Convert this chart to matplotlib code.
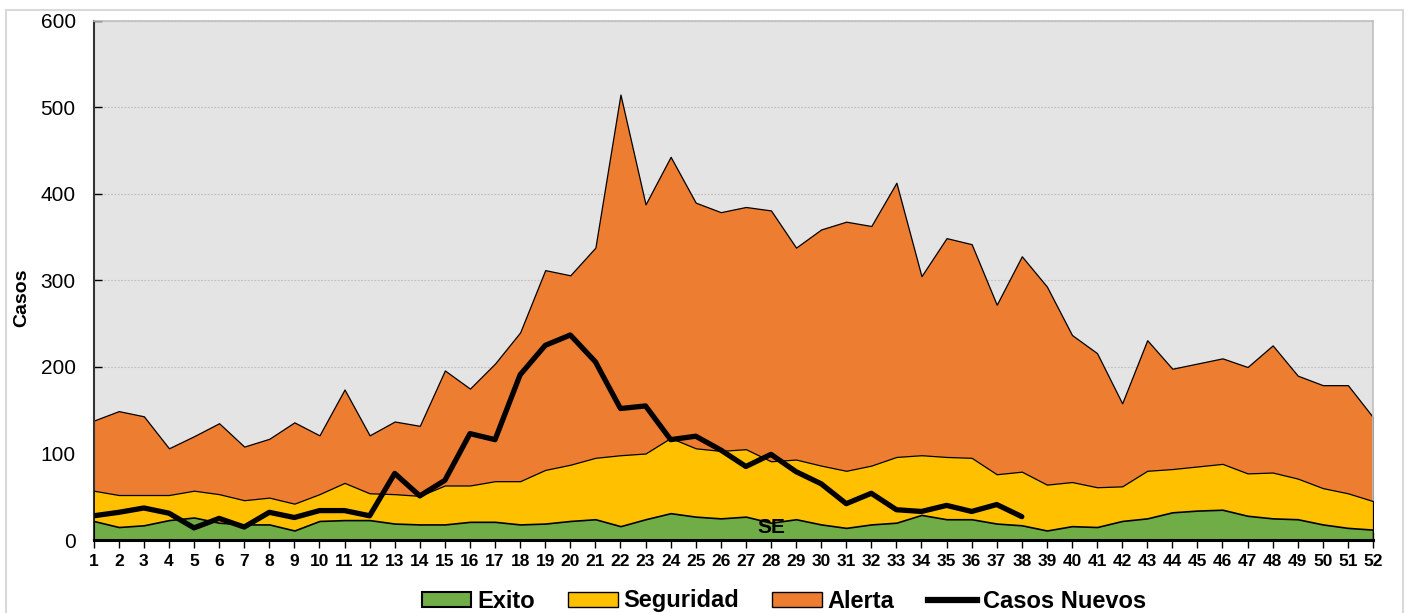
import matplotlib
matplotlib.use("Agg")
import matplotlib.pyplot as plt
from matplotlib.patches import Rectangle, Patch
from matplotlib.lines import Line2D

plt.rcParams['font.family'] = ['Liberation Sans', 'DejaVu Sans']

weeks = list(range(1, 53))
alerta = [138, 149, 143, 106, 120, 135, 108, 117, 136, 121, 174, 121, 137, 132, 196, 175, 204, 240, 312, 306,
          338, 515, 388, 443, 390, 379, 385, 381, 338, 359, 368, 363, 413, 305, 349, 342, 272, 328, 293, 237,
          216, 158, 231, 198, 204, 210, 200, 225, 190, 179, 179, 142]
seguridad = [57, 52, 52, 52, 57, 53, 46, 49, 42, 53, 66, 54, 53, 51, 63, 63, 68, 68, 81, 87,
             95, 98, 100, 118, 106, 103, 105, 91, 93, 86, 80, 86, 96, 98, 96, 95, 76, 79, 64, 67,
             61, 62, 80, 82, 85, 88, 77, 78, 71, 60, 54, 45]
exito = [22, 15, 17, 23, 26, 20, 18, 18, 11, 22, 23, 23, 19, 18, 18, 21, 21, 18, 19, 22,
         24, 16, 24, 31, 27, 25, 27, 20, 24, 18, 14, 18, 20, 29, 24, 24, 19, 17, 11, 16,
         15, 22, 25, 32, 34, 35, 28, 25, 24, 18, 14, 12]
casos_weeks = list(range(1, 39))
casos = [28, 32, 37, 31, 14, 25, 15, 32, 26, 34, 34, 28, 77, 51, 69, 123, 116, 191, 225, 237,
         206, 152, 155, 116, 120, 104, 85, 99, 79, 65, 42, 54, 35, 33, 40, 33, 41, 27]

C_GREEN = '#70AD47'
C_YELLOW = '#FFC000'
C_ORANGE = '#ED7D31'

W, H = 1408, 613
fig = plt.figure(figsize=(W / 100, H / 100), dpi=100)
fig.patch.set_facecolor('white')

# outer chart border
fig.patches.append(Rectangle((6 / W, -0.05), (1403 - 6) / W, 1 - 10 / H + 0.05,
                             transform=fig.transFigure, fill=False,
                             edgecolor='#D9D9D9', linewidth=1.5))

left, right = 93.7 / W, 1373 / W
bottom, top = 1 - 540 / H, 1 - 21 / H
ax = fig.add_axes([left, bottom, right - left, top - bottom])
ax.set_facecolor('#E4E4E4')

ax.fill_between(weeks, 0, alerta, facecolor=C_ORANGE, edgecolor='black', linewidth=0.9, zorder=2)
ax.fill_between(weeks, 0, seguridad, facecolor=C_YELLOW, edgecolor='black', linewidth=0.9, zorder=3)
ax.fill_between(weeks, 0, exito, facecolor=C_GREEN, edgecolor='black', linewidth=1.2, zorder=4)
ax.plot(casos_weeks, casos, color='black', linewidth=3.8, solid_capstyle='round', zorder=6)

ax.set_xlim(1, 52)
ax.set_ylim(0, 600)
ax.set_xticks(weeks)
ax.set_xticklabels([str(w) for w in weeks], fontsize=12.5, fontweight='bold')
ax.set_yticks(range(0, 601, 100))
ax.tick_params(axis='y', direction='in', length=6, width=1, labelsize=15, pad=13)
ax.tick_params(axis='x', direction='inout', length=12, width=1, pad=4)

ax.set_axisbelow(True)
ax.yaxis.grid(True, linestyle=(0, (1.5, 1.5)), color='#BDBDBD', linewidth=0.8, zorder=1)

for s in ['top', 'right']:
    ax.spines[s].set_color('#BFBFBF')
    ax.spines[s].set_linewidth(1.2)
ax.spines['left'].set_color('#333333')
ax.spines['left'].set_linewidth(1.5)
ax.spines['bottom'].set_color('black')
ax.spines['bottom'].set_linewidth(2.2)
ax.spines['bottom'].set_zorder(7)

ax.set_ylabel('Casos', fontsize=14, fontweight='bold', va='center')
ax.yaxis.set_label_coords((22 - 93.7) / (1373 - 93.7), (540 - 298) / 519)

ax.text(28, 15, 'SE', fontsize=15, fontweight='bold', ha='center', va='center', zorder=8)

handles = [Patch(facecolor=C_GREEN, edgecolor='black', linewidth=1.5),
           Patch(facecolor=C_YELLOW, edgecolor='black', linewidth=1.0),
           Patch(facecolor=C_ORANGE, edgecolor='black', linewidth=1.0),
           Line2D([0], [0], color='black', linewidth=4.5)]
labels = ['Exito', 'Seguridad', 'Alerta', 'Casos Nuevos']
fig.legend(handles, labels, loc='center', bbox_to_anchor=(784 / W, 1 - 601 / H), ncol=4,
           frameon=False, prop={'weight': 'bold', 'size': 17}, handlelength=2.1,
           handleheight=0.6, handletextpad=0.25, columnspacing=1.4, borderpad=0, borderaxespad=0)

fig.savefig('out.png', dpi=100)
